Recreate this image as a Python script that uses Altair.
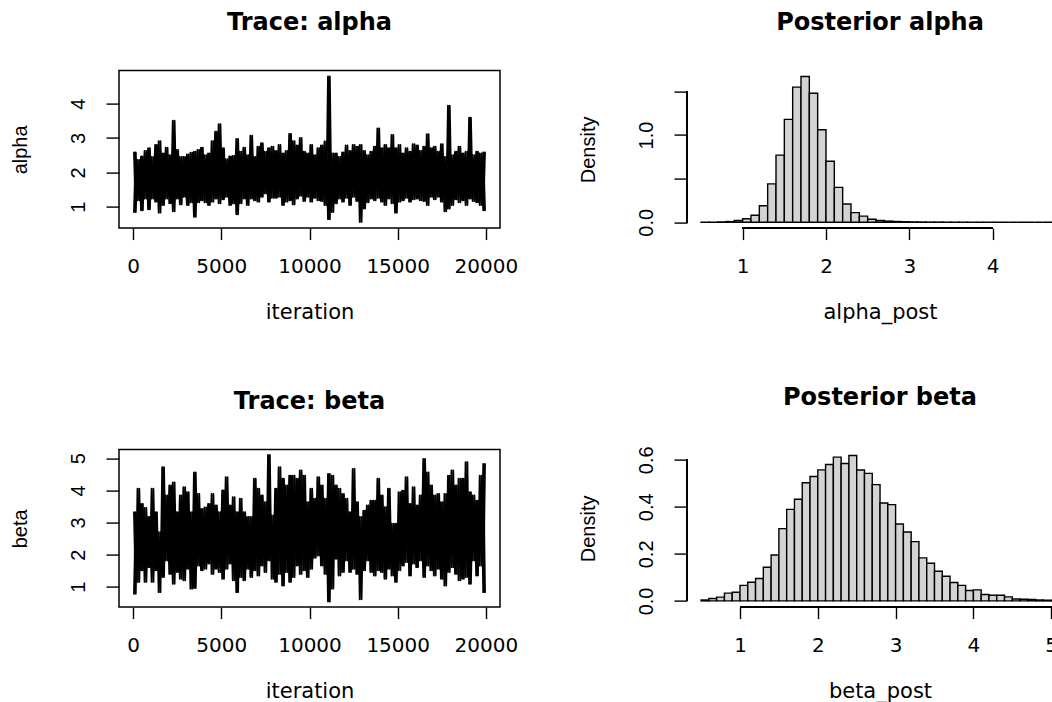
import altair as alt
import pandas as pd

# ---------------- data ----------------
# trace plots: per 200-iteration block, highest and lowest drawn value
iter_block_start = list(range(0, 20000, 200))

alpha_hi = [2.58, 2.36, 2.46, 2.62, 2.70, 2.45, 2.80, 2.91, 2.55, 2.72,
            2.50, 3.50, 2.65, 2.45, 2.45, 2.52, 2.57, 2.60, 2.65, 2.72,
            2.50, 2.55, 2.91, 3.18, 3.40, 2.70, 2.38, 2.46, 2.48, 2.97,
            2.60, 2.72, 2.50, 3.07, 2.45, 2.75, 2.85, 2.60, 2.70, 2.75,
            2.62, 2.80, 2.55, 2.62, 3.12, 2.91, 2.78, 3.00, 2.60, 2.55,
            2.80, 2.50, 2.70, 2.78, 2.90, 4.79, 2.55, 2.55, 2.45, 2.58,
            2.78, 2.62, 2.80, 2.75, 2.80, 2.62, 2.50, 2.60, 2.75, 3.28,
            2.70, 2.80, 2.70, 3.09, 2.70, 2.80, 2.55, 2.70, 2.60, 2.82,
            2.78, 2.62, 2.75, 3.11, 2.70, 2.75, 2.60, 2.82, 2.45, 3.94,
            2.50, 2.60, 2.75, 2.55, 2.60, 3.59, 2.50, 2.60, 2.55, 2.58]
alpha_lo = [0.85, 1.19, 0.90, 1.24, 0.93, 1.24, 1.15, 0.83, 1.05, 1.24,
            1.10, 0.87, 1.24, 1.07, 1.29, 1.05, 1.13, 0.71, 1.13, 1.19,
            1.13, 1.05, 1.15, 1.24, 1.10, 1.22, 1.29, 1.05, 1.10, 0.78,
            1.10, 1.24, 1.05, 1.24, 1.19, 1.15, 1.29, 1.39, 1.15, 1.26,
            1.26, 1.29, 1.05, 1.15, 1.19, 1.07, 1.24, 1.32, 1.17, 1.29,
            1.15, 1.26, 1.19, 1.17, 1.05, 0.64, 0.85, 1.10, 1.24, 1.15,
            1.26, 1.05, 1.29, 1.17, 0.56, 0.95, 1.13, 1.24, 1.19, 1.26,
            1.15, 1.05, 1.24, 1.10, 0.83, 1.15, 1.19, 1.26, 1.15, 1.22,
            1.24, 1.19, 1.17, 1.05, 1.29, 1.22, 1.29, 1.15, 0.87, 0.95,
            1.05, 1.22, 1.13, 1.19, 1.05, 1.24, 1.17, 1.13, 1.05, 0.90]

beta_hi = [3.32, 4.05, 3.58, 3.45, 3.17, 4.05, 3.32, 2.70, 4.72, 3.84,
           4.15, 4.25, 3.32, 3.84, 4.10, 3.94, 3.32, 4.56, 3.89, 3.42,
           3.47, 3.58, 3.89, 3.53, 3.32, 4.00, 4.41, 3.53, 3.79, 3.32,
           3.74, 3.32, 3.17, 3.17, 4.36, 4.05, 3.84, 3.63, 5.10, 3.22,
           4.05, 4.72, 4.36, 4.15, 4.46, 4.46, 4.36, 4.62, 4.46, 3.63,
           4.05, 3.74, 4.41, 4.15, 3.74, 4.51, 4.46, 4.15, 4.05, 3.89,
           3.74, 3.32, 4.67, 3.63, 3.17, 3.37, 3.53, 3.68, 3.68, 4.36,
           3.84, 3.48, 4.05, 2.96, 2.96, 3.94, 3.99, 4.41, 3.58, 4.10,
           3.53, 3.84, 4.98, 4.56, 4.15, 3.84, 3.89, 3.63, 3.89, 4.46,
           4.62, 4.15, 4.36, 4.36, 4.88, 3.94, 3.84, 3.68, 4.46, 4.82]
beta_lo = [0.78, 1.15, 1.51, 1.15, 1.61, 1.15, 1.51, 0.83, 1.30, 1.82,
           1.40, 1.09, 1.46, 1.25, 1.20, 1.56, 0.94, 0.96, 1.66, 1.51,
           1.56, 1.72, 1.40, 1.56, 1.46, 1.25, 1.56, 1.72, 1.20, 0.83,
           1.30, 1.20, 1.56, 1.30, 1.51, 1.35, 1.66, 1.46, 1.82, 1.25,
           1.15, 1.40, 1.04, 1.46, 1.15, 1.30, 1.66, 1.40, 1.51, 1.30,
           1.56, 1.90, 1.97, 1.66, 1.40, 0.54, 0.94, 1.87, 1.35, 1.46,
           1.82, 1.46, 1.56, 1.40, 0.61, 1.51, 1.82, 1.46, 1.35, 1.51,
           1.46, 1.25, 1.56, 1.35, 1.15, 1.51, 1.66, 1.77, 1.35, 1.72,
           1.61, 1.82, 1.30, 1.66, 1.51, 1.35, 1.56, 1.25, 1.04, 1.46,
           1.61, 1.40, 1.20, 1.25, 1.30, 1.09, 1.82, 1.35, 1.66, 0.83]

# histograms: left edge of each 0.1-wide bin and its density
alpha_bin_left = [0.5, 0.6, 0.7, 0.8, 0.9, 1.0, 1.1, 1.2, 1.3, 1.4,
                  1.5, 1.6, 1.7, 1.8, 1.9, 2.0, 2.1, 2.2, 2.3, 2.4,
                  2.5, 2.6, 2.7, 2.8, 2.9, 3.0, 3.1, 3.2, 3.3, 3.4,
                  3.5, 3.6, 3.7, 3.8, 3.9, 4.0, 4.1, 4.2, 4.3, 4.4,
                  4.5, 4.6, 4.7]
alpha_density = [0.001, 0.002, 0.004, 0.008, 0.02, 0.04, 0.08, 0.19, 0.44, 0.77,
                 1.18, 1.55, 1.672, 1.48, 1.06, 0.70, 0.40, 0.21, 0.11, 0.07,
                 0.035, 0.02, 0.013, 0.009, 0.006, 0.004, 0.003, 0.002, 0.002, 0.001,
                 0.001, 0.001, 0.0005, 0.0, 0.0005, 0.0, 0.0, 0.0, 0.0, 0.0,
                 0.0, 0.0, 0.0005]

beta_bin_left = [0.5, 0.6, 0.7, 0.8, 0.9, 1.0, 1.1, 1.2, 1.3, 1.4,
                 1.5, 1.6, 1.7, 1.8, 1.9, 2.0, 2.1, 2.2, 2.3, 2.4,
                 2.5, 2.6, 2.7, 2.8, 2.9, 3.0, 3.1, 3.2, 3.3, 3.4,
                 3.5, 3.6, 3.7, 3.8, 3.9, 4.0, 4.1, 4.2, 4.3, 4.4,
                 4.5, 4.6, 4.7, 4.8, 4.9, 5.0]
beta_density = [0.004, 0.010, 0.016, 0.033, 0.037, 0.066, 0.079, 0.095, 0.143, 0.195,
                0.307, 0.389, 0.432, 0.502, 0.529, 0.557, 0.580, 0.611, 0.584, 0.618,
                0.556, 0.542, 0.494, 0.416, 0.409, 0.327, 0.293, 0.252, 0.183, 0.160,
                0.126, 0.105, 0.078, 0.066, 0.044, 0.047, 0.027, 0.024, 0.024, 0.017,
                0.008, 0.007, 0.006, 0.004, 0.003, 0.002]

trace_ticks = [0, 5000, 10000, 15000, 20000]

# ---------------- styling ----------------
H_FONT = "DejaVu Sans"
V_FONT = "Liberation Sans"
PLOT_H = 157.5
TRACE_W = 381
HIST_W = 386
LINE_W = 1.4


def zigzag(hi, lo):
    """Two interleaved passes through the block extremes (the drawn trace
    sweeps from top to bottom of each block more than once)."""
    rows = []
    for s, h, l in zip(iter_block_start, hi, lo):
        rows.append({"iteration": s + 50, "value": h, "pass": "a"})
        rows.append({"iteration": s + 150, "value": l, "pass": "a"})
        rows.append({"iteration": s + 50, "value": l, "pass": "b"})
        rows.append({"iteration": s + 150, "value": h, "pass": "b"})
    return pd.DataFrame(rows)


def hist_frame(left, dens):
    return pd.DataFrame({"left": left,
                         "right": [round(v + 0.1, 2) for v in left],
                         "density": dens})


def x_axis(values, title):
    return alt.Axis(values=values, format="d", title=title, domain=False, grid=False,
                    tickSize=11.5, tickColor="black", tickWidth=LINE_W,
                    labelFont=H_FONT, labelFontSize=20, labelColor="black",
                    labelBaseline="alphabetic", labelPadding=33, labelFlush=False,
                    labelOverlap=False,
                    titleFont=H_FONT, titleFontSize=21, titleFontWeight="normal",
                    titleColor="black", titleY=90, titleBaseline="alphabetic")


def y_axis(values, title, label_expr=None, fmt="d"):
    kw = dict(values=values, title=title, domain=False, grid=False,
              tickSize=13, tickColor="black", tickWidth=LINE_W,
              labelAngle=270, labelAlign="center", labelBaseline="alphabetic",
              labelPadding=22, labelFont=V_FONT, labelFontSize=20,
              labelColor="black", labelOverlap=False, labelFlush=False,
              titleFont=V_FONT, titleFontSize=20, titleFontWeight="normal",
              titleColor="black", titleX=-93, titleBaseline="alphabetic",
              titleAngle=270)
    if label_expr is not None:
        kw["labelExpr"] = label_expr
    else:
        kw["format"] = fmt
    return alt.Axis(**kw)


def panel_title(text):
    return alt.TitleParams(text=text, font=H_FONT, fontSize=24, fontWeight="bold",
                           color="black", anchor="middle", frame="group",
                           offset=17, baseline="alphabetic")


def trace_chart(hi, lo, title, ytitle, ydomain, yticks):
    df = zigzag(hi, lo)
    return alt.Chart(df).mark_line(
        color="black", strokeWidth=1.9, strokeJoin="round", strokeCap="round"
    ).encode(
        x=alt.X("iteration:Q",
                scale=alt.Scale(domain=[-800, 20800], nice=False, zero=False),
                axis=x_axis(trace_ticks, "iteration")),
        y=alt.Y("value:Q",
                scale=alt.Scale(domain=ydomain, nice=False, zero=False),
                axis=y_axis(yticks, ytitle)),
        detail="pass:N",
        order=alt.Order("iteration:Q"),
    ).properties(
        width=TRACE_W, height=PLOT_H, title=panel_title(title),
        view=alt.ViewBackground(stroke="black", strokeWidth=1.5),
    )


def hist_chart(left, dens, title, xtitle, xdomain, xticks, ydomain, yticks,
               label_expr):
    df = hist_frame(left, dens)
    xs = alt.Scale(domain=xdomain, nice=False, zero=False)
    ys = alt.Scale(domain=ydomain, nice=False, zero=False)
    bars = alt.Chart(df).mark_rect(
        fill="#D3D3D3", stroke="black", strokeWidth=1.4
    ).encode(
        x=alt.X("left:Q", scale=xs, axis=x_axis(xticks, xtitle)),
        x2="right:Q",
        y=alt.Y("density:Q", scale=ys,
                axis=y_axis(yticks, "Density", label_expr=label_expr)),
        y2=alt.datum(0),
    )
    xline = alt.Chart(df).mark_rule(color="black", strokeWidth=LINE_W).encode(
        x=alt.datum(xticks[0]), x2=alt.datum(xticks[-1]), y=alt.value(PLOT_H)
    )
    yline = alt.Chart(df).mark_rule(color="black", strokeWidth=LINE_W).encode(
        y=alt.datum(yticks[0]), y2=alt.datum(yticks[-1]), x=alt.value(0)
    )
    return alt.layer(bars, xline, yline).properties(
        width=HIST_W, height=PLOT_H, title=panel_title(title)
    )


tl = trace_chart(alpha_hi, alpha_lo, "Trace: alpha", "alpha", [0.38, 4.96], [1, 2, 3, 4])
tr = hist_chart(alpha_bin_left, alpha_density, "Posterior alpha", "alpha_post",
                [0.332, 4.964], [1, 2, 3, 4], [-0.067, 1.739], [0, 0.5, 1.0, 1.5],
                "datum.value == 0 || datum.value == 1 ? format(datum.value, '.1f') : ''")
bl = trace_chart(beta_hi, beta_lo, "Trace: beta", "beta", [0.365, 5.27], [1, 2, 3, 4, 5])
br = hist_chart(beta_bin_left, beta_density, "Posterior beta", "beta_post",
                [0.319, 5.28], [1, 2, 3, 4, 5], [-0.0263, 0.643],
                [0, 0.1, 0.2, 0.3, 0.4, 0.5, 0.6],
                "round(datum.value * 10) % 2 == 0 ? format(datum.value, '.1f') : ''")

chart = alt.concat(
    tl, tr, bl, br, columns=2,
    spacing={"row": 221, "column": 187},
    bounds="flush", align="each",
).properties(
    autosize=alt.AutoSizeParams(type="none"),
    padding={"left": 119, "top": 70.6, "right": 933, "bottom": 631.4},
    background="white",
).configure_view(stroke=None)

chart.save("out.html", embed_options={"renderer": "svg", "actions": False})
